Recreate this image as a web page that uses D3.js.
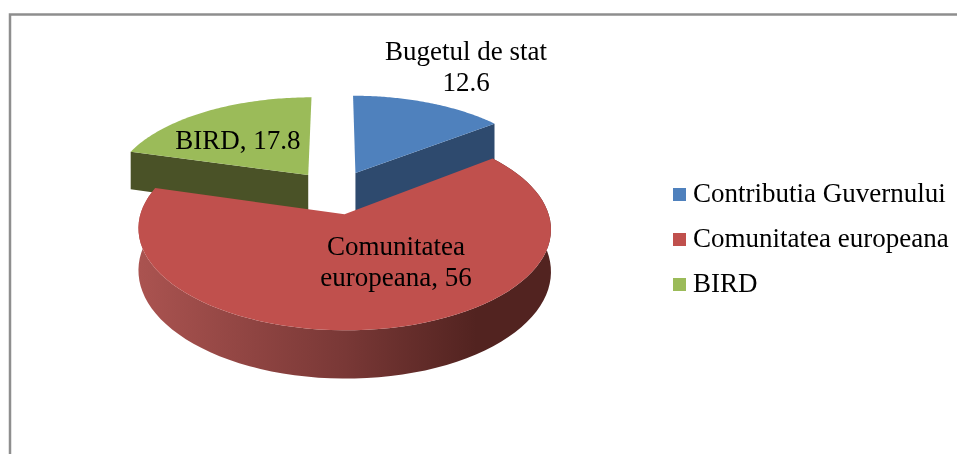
<!DOCTYPE html>
<html>
<head>
<meta charset="utf-8">
<style>
html, body { margin: 0; padding: 0; background: #fff; overflow: hidden; }
svg { filter: blur(0.4px); }
text { font-family: "Liberation Serif", serif; fill: #000; }
</style>
<script src="https://cdnjs.cloudflare.com/ajax/libs/d3/7.8.5/d3.min.js"></script>
</head>
<body>
<svg id="chart" width="957" height="454"></svg>
<script>
var legendNames = ["Contributia Guvernului", "Comunitatea europeana", "BIRD"]
var values = [12.6, 56, 17.8]
var sliceLabels = [["Bugetul de stat", "12.6"], ["Comunitatea", "europeana, 56"], ["BIRD, 17.8"]]
var topColours = ["#4f81bd", "#c0504d", "#9bbb59"]
var sideColours = ["#2e4a6e", "#7a3432", "#4a5227"]

var svg = d3.select("#chart")

// chart frame, runs off the right and bottom of the picture
svg.append("path")
    .attr("d", d3.line()([[10, 454], [10, 14.5], [957, 14.5]]))
    .attr("fill", "none")
    .attr("stroke", "#8e8e8e")
    .attr("stroke-width", 2.5)

var defs = svg.append("defs")
var grad = defs.append("linearGradient")
    .attr("id", "rim")
    .attr("gradientUnits", "userSpaceOnUse")
    .attr("x1", 140).attr("x2", 550).attr("y1", 0).attr("y2", 0)
grad.append("stop").attr("offset", "0").attr("stop-color", "#aa5350")
grad.append("stop").attr("offset", "0.5").attr("stop-color", "#793836")
grad.append("stop").attr("offset", "0.82").attr("stop-color", "#522320")
grad.append("stop").attr("offset", "1").attr("stop-color", "#522320")

// tilted disc with a bit of perspective: u to the right, v to the back
var cx = 335.5, cy = 192, radX = 197.5, radY = 93, persp = 0.14, thick = 40, explode = 0.235

function project(u, v, z) {
    var w = 1 / (1 + persp * v)
    return [cx + radX * u * w, cy - radY * v * w + z * thick * w]
}

var slices = d3.pie().sort(null)(values)

function rimPoint(s, a, z) {
    var mid = (s.startAngle + s.endAngle) / 2
    var ou = explode * Math.sin(mid), ov = explode * Math.cos(mid)
    return project(ou + Math.sin(a), ov + Math.cos(a), z)
}
function apex(s, z) {
    var mid = (s.startAngle + s.endAngle) / 2
    return project(explode * Math.sin(mid), explode * Math.cos(mid), z)
}
function arcPoints(s, z) {
    var n = 80
    return d3.range(n + 1).map(i => rimPoint(s, s.startAngle + (s.endAngle - s.startAngle) * i / n, z))
}

var line = d3.line()

function drawTop(s, i) {
    svg.append("path")
        .attr("d", line([apex(s, 0)].concat(arcPoints(s, 0))) + "Z")
        .attr("fill", topColours[i])
}

// back slices first, the red one sits in front of them
// green: the face along its first edge looks at the viewer
svg.append("path")
    .attr("d", line([apex(slices[2], 0), rimPoint(slices[2], slices[2].startAngle, 0),
        rimPoint(slices[2], slices[2].startAngle, 1), apex(slices[2], 1)]) + "Z")
    .attr("fill", sideColours[2])
drawTop(slices[2], 2)

// blue: the face along its last edge
svg.append("path")
    .attr("d", line([apex(slices[0], 0), rimPoint(slices[0], slices[0].endAngle, 0),
        rimPoint(slices[0], slices[0].endAngle, 1), apex(slices[0], 1)]) + "Z")
    .attr("fill", sideColours[0])
drawTop(slices[0], 0)

// red: curved rim with gradient
svg.append("path")
    .attr("d", line(arcPoints(slices[1], 0).concat(arcPoints(slices[1], 1).reverse())) + "Z")
    .attr("fill", "url(#rim)")
drawTop(slices[1], 1)

// data labels
var fontSize = 27, lineGap = 31
var labelCentres = [[466, 60], [396, 255], [238, 149]]
sliceLabels.forEach(function (lines, i) {
    svg.append("g").selectAll("text")
        .data(lines)
        .enter()
        .append("text")
        .attr("x", labelCentres[i][0])
        .attr("y", (d, j) => labelCentres[i][1] + j * lineGap)
        .attr("text-anchor", "middle")
        .attr("font-size", fontSize)
        .text(d => d)
})

// legend
var legendY = d3.scalePoint().domain(legendNames).range([202, 292])
var legend = svg.append("g").selectAll("g")
    .data(legendNames)
    .enter()
    .append("g")
    .attr("transform", d => "translate(673," + legendY(d) + ")")
legend.append("rect")
    .attr("x", 0).attr("y", -14)
    .attr("width", 13).attr("height", 13)
    .attr("fill", (d, i) => topColours[i])
legend.append("text")
    .attr("x", 20)
    .attr("font-size", fontSize)
    .text(d => d)
</script>
</body>
</html>
